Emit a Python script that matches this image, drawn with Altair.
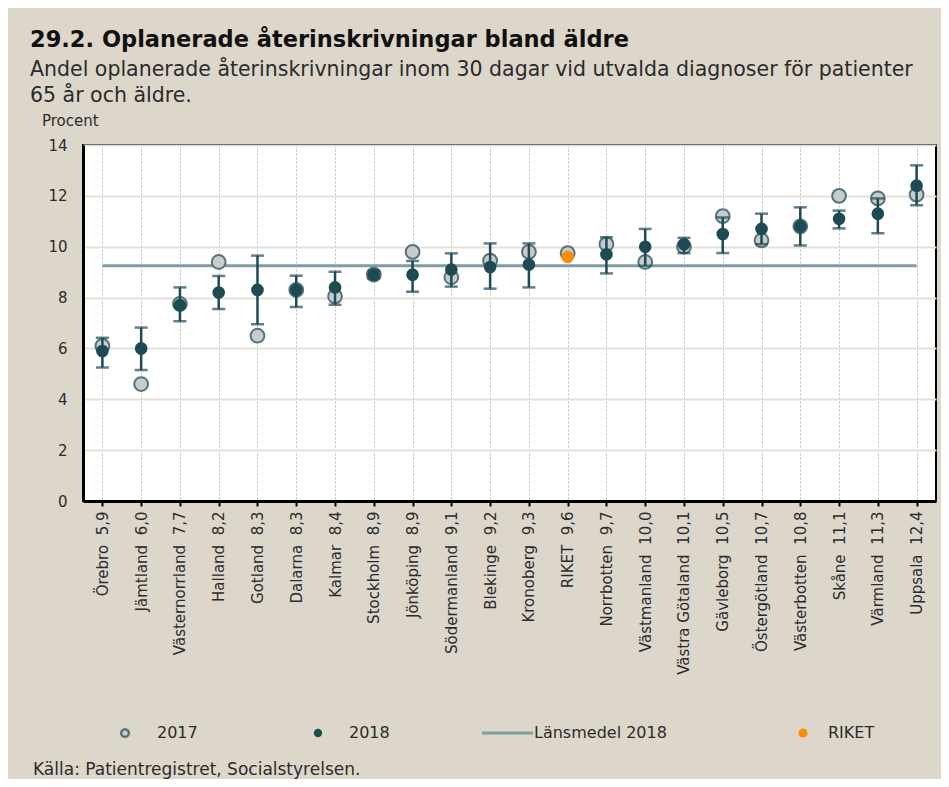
import altair as alt
import pandas as pd

regions = ["Örebro", "Jämtland", "Västernorrland", "Halland", "Gotland", "Dalarna",
           "Kalmar", "Stockholm", "Jönköping", "Södermanland", "Blekinge", "Kronoberg",
           "RIKET", "Norrbotten", "Västmanland", "Västra Götaland", "Gävleborg",
           "Östergötland", "Västerbotten", "Skåne", "Värmland", "Uppsala"]
v2018 = [5.9, 6.0, 7.7, 8.2, 8.3, 8.3, 8.4, 8.9, 8.9, 9.1, 9.2, 9.3,
         9.6, 9.7, 10.0, 10.1, 10.5, 10.7, 10.8, 11.1, 11.3, 12.4]
v2017 = [6.1, 4.6, 7.75, 9.4, 6.5, 8.3, 8.05, 8.9, 9.8, 8.8, 9.45, 9.8,
         9.75, 10.1, 9.4, 10.0, 11.2, 10.25, 10.8, 12.0, 11.9, 12.05]
ci_low = [5.25, 5.15, 7.07, 7.55, 6.95, 7.63, 7.72, 8.75, 8.23, 8.43, 8.35, 8.4,
          None, 8.95, 9.25, 9.75, 9.75, 10.1, 10.05, 10.72, 10.53, 11.63]
ci_high = [6.42, 6.82, 8.4, 8.85, 9.65, 8.86, 9.02, 9.05, 9.44, 9.74, 10.13, 10.13,
           None, 10.37, 10.7, 10.35, 11.15, 11.3, 11.55, 11.42, 11.9, 13.2]
lansmedel_2018 = 9.25

labels = [f"{r}\u00a0\u00a0{str(v).replace('.', ',')}" for r, v in zip(regions, v2018)]

df = pd.DataFrame({"region": regions, "label": labels, "v2018": v2018, "v2017": v2017,
                   "lo": ci_low, "hi": ci_high})

FONT = "DejaVu Sans"
TEAL = "#1e4a54"
MEAN = "#7f9ca4"
BG = "#ddd7cb"
TXT = "#2b2b2b"

xscale = alt.Scale(type="point", padding=0.5, domain=labels)
xaxis = alt.Axis(title=None, labelAngle=-90, labelFontSize=15, labelFont=FONT,
                 labelColor=TXT, tickColor="black", tickSize=5, tickWidth=2,
                 domainColor="black", domainWidth=3, grid=True, gridColor="#bdbdbd",
                 gridDash=[2, 2], gridWidth=1, labelPadding=5)
yscale = alt.Scale(domain=[0, 14], nice=False)
yaxis = alt.Axis(title=None, values=[0, 2, 4, 6, 8, 10, 12, 14], tickSize=0,
                 labelPadding=16, grid=True, gridColor="#e6e1d6", gridWidth=2,
                 domainColor="black", domainWidth=3, labelFontSize=15, labelFont=FONT,
                 labelColor=TXT)

X = alt.X("label:N", scale=xscale, axis=xaxis, sort=labels)

base = alt.Chart(df)

mean_df = pd.DataFrame({"x1": [labels[0]], "x2": [labels[-1]], "m": [lansmedel_2018]})
mean_line = alt.Chart(mean_df).mark_rule(color=MEAN, strokeWidth=3).encode(
    x=alt.X("x1:N", scale=xscale, axis=xaxis, sort=labels),
    x2="x2:N",
    y=alt.Y("m:Q", scale=yscale, axis=yaxis),
)

c2017 = base.mark_circle(size=190, color="#c7cdce", stroke="#56737a", strokeWidth=2,
                         opacity=1).encode(x=X, y=alt.Y("v2017:Q", scale=yscale, axis=yaxis))

ci = base.transform_filter("isValid(datum.lo)")
err = ci.mark_rule(color=TEAL, strokeWidth=2.5).encode(
    x=X, y=alt.Y("lo:Q", scale=yscale, axis=yaxis), y2="hi:Q")
cap_lo = ci.mark_tick(color=TEAL, thickness=2.5, size=13).encode(
    x=X, y=alt.Y("lo:Q", scale=yscale, axis=yaxis))
cap_hi = ci.mark_tick(color=TEAL, thickness=2.5, size=13).encode(
    x=X, y=alt.Y("hi:Q", scale=yscale, axis=yaxis))

d2018 = base.transform_filter("datum.region != 'RIKET'").mark_circle(
    size=160, color=TEAL, opacity=1).encode(x=X, y=alt.Y("v2018:Q", scale=yscale, axis=yaxis))
riket = base.transform_filter("datum.region == 'RIKET'").mark_circle(
    size=160, color="#ff8c00", opacity=1).encode(x=X, y=alt.Y("v2018:Q", scale=yscale, axis=yaxis))

one = pd.DataFrame({"a": [0]})


def txt(text, x, y, size=15, weight="normal", color=TXT, baseline="alphabetic"):
    return alt.Chart(one).mark_text(text=text, align="left", baseline=baseline, font=FONT,
                                    fontSize=size, fontWeight=weight, color=color).encode(
        x=alt.value(x), y=alt.value(y))


title = txt("29.2. Oplanerade återinskrivningar bland äldre", -53, -98, size=22.5, weight="bold", color="#111111")
sub1 = txt("Andel oplanerade återinskrivningar inom 30 dagar vid utvalda diagnoser för patienter", -53, -69, size=20.5)
sub2 = txt("65 år och äldre.", -53, -43, size=20.5)
procent = txt("Procent", -41, -19, size=15)
source = txt("Källa: Patientregistret, Socialstyrelsen.", -50, 625, size=17, baseline="middle")

LY = 588
leg_2017 = alt.Chart(one).mark_circle(size=60, color="#c7cdce", stroke="#56737a", strokeWidth=2.5,
                                      opacity=1).encode(x=alt.value(42), y=alt.value(LY))
leg_2018 = alt.Chart(one).mark_circle(size=70, color=TEAL, opacity=1).encode(
    x=alt.value(235), y=alt.value(LY))
leg_line = alt.Chart(one).mark_rule(color=MEAN, strokeWidth=3).encode(
    x=alt.value(399), x2=alt.value(450), y=alt.value(LY))
leg_riket = alt.Chart(one).mark_circle(size=80, color="#ff8c00", opacity=1).encode(
    x=alt.value(720), y=alt.value(LY))
t2017 = txt("2017", 74, LY, size=16, baseline="middle")
t2018 = txt("2018", 266, LY, size=16, baseline="middle")
tmean = txt("Länsmedel 2018", 451, LY, size=16, baseline="middle")
triket = txt("RIKET", 745, LY, size=16, baseline="middle")

chart = alt.layer(
    mean_line, c2017, err, cap_lo, cap_hi, d2018, riket,
    title, sub1, sub2, procent, source,
    leg_2017, leg_2018, leg_line, leg_riket, t2017, t2018, tmean, triket,
).properties(
    width=853, height=356,
    autosize=alt.AutoSizeParams(type="none"),
    padding={"left": 75, "top": 137, "right": 5, "bottom": 278},
    background=BG,
).configure_view(stroke="black", strokeWidth=2, fill="white")

chart.save("out.html", embed_options={"renderer": "svg", "actions": False})
